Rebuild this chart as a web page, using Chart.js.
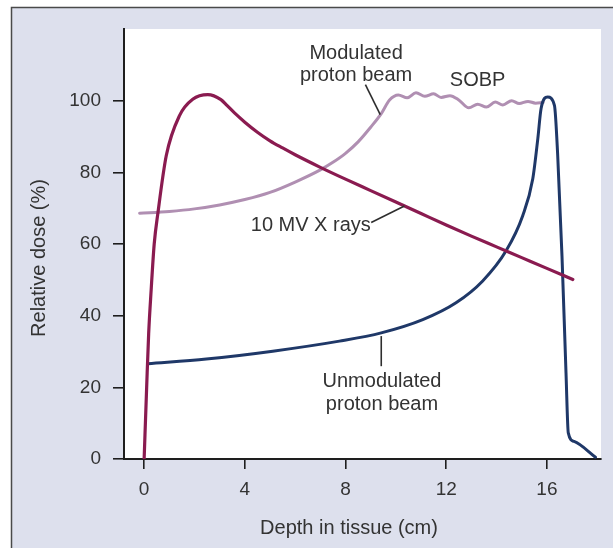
<!DOCTYPE html>
<html>
<head>
<meta charset="utf-8">
<script src="https://cdn.jsdelivr.net/npm/chart.js@4.4.1/dist/chart.umd.min.js"></script>
<style>
  html, body { margin: 0; padding: 0; background: #ffffff; }
  canvas { display: block; }
</style>
</head>
<body>
<canvas id="doseChart" width="613" height="548"></canvas>
<script>
// Axis ticks
const depthTicks = [0, 4, 8, 12, 16];
const doseTicks = [0, 20, 40, 60, 80, 100];

// 10 MV X rays: depth (cm) and relative dose (%)
const xrayDepth = [0, 0.1, 0.18, 0.28, 0.4, 0.55, 0.88, 1.41, 1.93, 2.53, 3.05, 3.3, 3.6, 4.0, 4.5, 5.0, 5.5, 6.0, 7.0, 8.0, 9.0, 10.0, 11.0, 12.0, 13.0, 14.0, 15.0, 16.0, 17.03];
const xrayDose  = [0, 20, 35, 47.3, 60, 68.8, 84.7, 95.9, 100.4, 101.7, 100.3, 98.6, 96.5, 94.0, 91.2, 88.8, 86.8, 84.9, 81.4, 78.1, 74.9, 71.7, 68.5, 65.3, 62.2, 59.2, 56.2, 53.2, 50.1];

// Modulated proton beam (spread-out Bragg peak)
const sobpDepth = [-0.18, 1.0, 2.0, 3.0, 4.0, 5.0, 6.0, 7.0, 7.5, 8.0, 8.5, 9.0, 9.42, 9.75, 10.1, 10.45, 10.8, 11.15, 11.5, 11.8, 12.15, 12.5, 12.9, 13.25, 13.6, 13.95, 14.25, 14.6, 14.9, 15.25, 15.55, 15.85];
const sobpDose  = [68.6, 69.1, 69.8, 70.9, 72.4, 74.4, 77.3, 80.7, 82.8, 85.3, 88.5, 92.6, 96.4, 100.2, 101.6, 100.8, 102.2, 101.2, 101.9, 100.9, 101.4, 100.2, 98.0, 99.0, 98.2, 99.6, 98.8, 100.0, 99.2, 99.8, 99.3, 99.5];

// Unmodulated proton beam (pristine Bragg peak)
const braggDepth = [0.15, 2.47, 5.11, 7.76, 9.42, 11.07, 12.39, 13.45, 14.38, 15.04, 15.44, 15.64, 15.77, 16.03, 16.3, 16.43, 16.6, 16.76, 16.85, 17.08, 17.93];
const braggDose  = [26.6, 27.9, 30.1, 32.9, 35.2, 38.9, 43.6, 49.7, 58.1, 67.9, 78.2, 89.4, 97.8, 101, 98.7, 84.7, 56.7, 24, 7.3, 4.9, 0.5];

const FONT = "'Liberation Sans', Arial, Helvetica, sans-serif";
const TEXT = '#333333';
const AXIS = '#1e1e1e';

const toPoints = (xs, ys) => xs.map((x, i) => ({ x: x, y: ys[i] }));

// Callout labels and their leader lines, anchored in data units
const callouts = [
  { text: 'Modulated',    x: 8.42,  y: 113.2 },
  { text: 'proton beam',  x: 8.42,  y: 107.0 },
  { text: 'SOBP',         x: 13.25, y: 105.7 },
  { text: '10 MV X rays', x: 6.62,  y: 65.3 },
  { text: 'Unmodulated',  x: 9.45,  y: 21.7 },
  { text: 'proton beam',  x: 9.45,  y: 15.1 }
];
const leaders = [
  [8.79, 104.5, 9.38, 96.1],
  [9.02, 66.0, 10.34, 70.6],
  [9.42, 34.3, 9.42, 25.9]
];

const backdrop = {
  id: 'backdrop',
  beforeDraw(chart) {
    const { ctx, width, height, chartArea } = chart;
    ctx.save();
    ctx.fillStyle = '#ffffff';
    ctx.fillRect(0, 0, width, height);
    ctx.fillStyle = '#dde0ed';
    ctx.fillRect(11, 7, width - 11, height - 7);
    ctx.strokeStyle = '#4a4a4a';
    ctx.lineWidth = 1.5;
    ctx.beginPath();
    ctx.moveTo(11.5, height);
    ctx.lineTo(11.5, 7.5);
    ctx.lineTo(width, 7.5);
    ctx.stroke();
    ctx.fillStyle = '#ffffff';
    ctx.fillRect(chartArea.left, chartArea.top, chartArea.right - chartArea.left, chartArea.bottom - chartArea.top);
    ctx.restore();
  }
};

const labels = {
  id: 'labels',
  afterDatasetsDraw(chart) {
    const { ctx } = chart;
    const sx = chart.scales.x, sy = chart.scales.y;
    ctx.save();
    ctx.strokeStyle = '#2e2e2e';
    ctx.lineWidth = 1.6;
    leaders.forEach(([x1, y1, x2, y2]) => {
      ctx.beginPath();
      ctx.moveTo(sx.getPixelForValue(x1), sy.getPixelForValue(y1));
      ctx.lineTo(sx.getPixelForValue(x2), sy.getPixelForValue(y2));
      ctx.stroke();
    });
    ctx.fillStyle = TEXT;
    ctx.font = '20px ' + FONT;
    ctx.textAlign = 'center';
    ctx.textBaseline = 'middle';
    callouts.forEach(c => {
      ctx.fillText(c.text, sx.getPixelForValue(c.x), sy.getPixelForValue(c.y));
    });
    ctx.restore();
  },
  afterDraw(chart) {
    const { ctx } = chart;
    ctx.save();
    ctx.fillStyle = TEXT;
    ctx.font = '20px ' + FONT;
    ctx.textAlign = 'center';
    ctx.textBaseline = 'middle';
    ctx.fillText('Depth in tissue (cm)', 349, 528);
    ctx.translate(39, 258);
    ctx.rotate(-Math.PI / 2);
    ctx.fillText('Relative dose (%)', 0, 0);
    ctx.restore();
  }
};

new Chart(document.getElementById('doseChart'), {
  type: 'line',
  data: {
    datasets: [
      {
        label: '10 MV X rays',
        data: toPoints(xrayDepth, xrayDose),
        borderColor: '#8a1b50',
        borderWidth: 3.2,
        order: 0
      },
      {
        label: 'Unmodulated proton beam',
        data: toPoints(braggDepth, braggDose),
        borderColor: '#1f3868',
        borderWidth: 3,
        order: 1
      },
      {
        label: 'Modulated proton beam',
        data: toPoints(sobpDepth, sobpDose),
        borderColor: '#b08fb2',
        borderWidth: 3,
        order: 2
      }
    ]
  },
  options: {
    responsive: false,
    animation: false,
    devicePixelRatio: 1,
    layout: { padding: { left: 0, top: 29, right: 12, bottom: 0 } },
    elements: {
      point: { radius: 0, hoverRadius: 0 },
      line: { cubicInterpolationMode: 'monotone', fill: false, borderCapStyle: 'round', borderJoinStyle: 'round' }
    },
    plugins: {
      legend: { display: false },
      tooltip: { enabled: false }
    },
    scales: {
      x: {
        type: 'linear',
        position: 'bottom',
        min: -0.8,
        max: 18.15,
        afterBuildTicks: s => { s.ticks = depthTicks.map(v => ({ value: v })); },
        afterFit: s => { s.height = 89; },
        ticks: {
          color: TEXT,
          font: { family: FONT, size: 19 },
          padding: 9,
          maxRotation: 0
        },
        grid: { drawOnChartArea: false, drawTicks: true, tickLength: 10, color: AXIS, lineWidth: 1.6 },
        border: { display: true, color: AXIS, width: 2 }
      },
      y: {
        type: 'linear',
        position: 'left',
        min: 0,
        max: 120,
        afterBuildTicks: s => { s.ticks = doseTicks.map(v => ({ value: v })); },
        afterFit: s => { s.width = 124; },
        ticks: {
          color: TEXT,
          font: { family: FONT, size: 19 },
          padding: 12
        },
        grid: { drawOnChartArea: false, drawTicks: true, tickLength: 11, color: AXIS, lineWidth: 1.6 },
        border: { display: true, color: AXIS, width: 2 }
      }
    }
  },
  plugins: [backdrop, labels]
});
</script>
</body>
</html>
